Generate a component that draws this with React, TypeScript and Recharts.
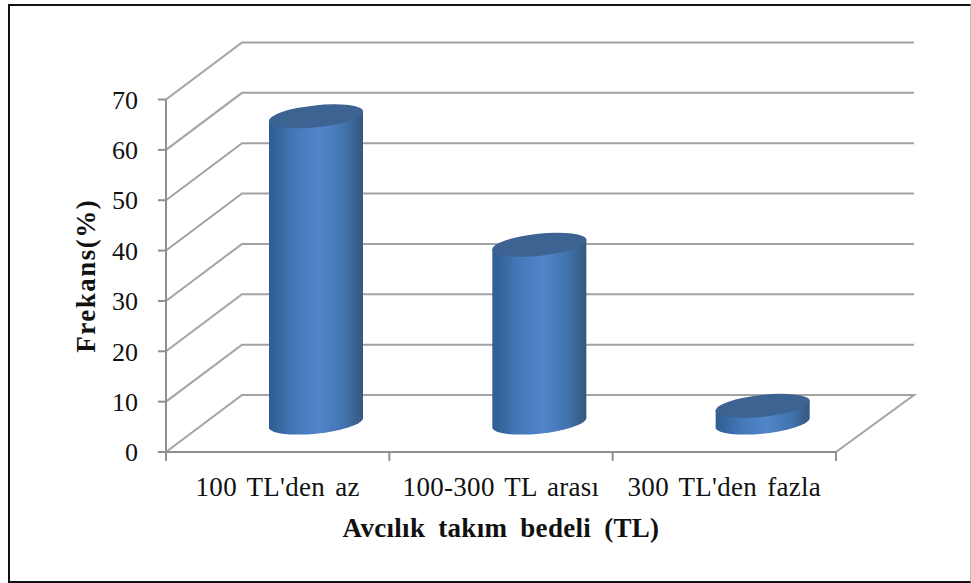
import React from "react";
import { BarChart, Bar, XAxis, YAxis, CartesianGrid, Label } from "recharts";

const categories = ["100 TL'den az", "100-300 TL arası", "300 TL'den fazla"];
const frequencies = [61, 35.5, 3.5];
const yTicks = [0, 10, 20, 30, 40, 50, 60, 70];
const xTitle = "Avcılık takım bedeli (TL)";
const yTitle = "Frekans(%)";

const rows = categories.map((name, i) => ({ name, value: frequencies[i] }));

const WALL_DX = 76;
const WALL_DY = 57;
const FONT = "'Liberation Serif', serif";
const TILT = 6;
const AXIS_COLOR = "#8f8f8f";
const TEXT_COLOR = "#111";

const grid = (p: any) => {
  const isFloor = Math.abs(p.y1 - (p.y + p.height)) < 1;
  return (
    <g key={p.key ?? p.y1}>
      <polyline
        fill="none"
        stroke="#a3a3a3"
        strokeWidth={2}
        points={`${p.x1},${p.y1} ${p.x1 + WALL_DX},${p.y1 - WALL_DY} ${p.x2 + WALL_DX + 2},${p.y1 - WALL_DY}${isFloor ? ` ${p.x2},${p.y1}` : ""}`}
      />
    </g>
  );
};

const XTick = (p: any) => {
  const band = p.width / categories.length;
  const left = p.x - band / 2;
  const axisY = p.y;
  return (
    <g>
      <line x1={left} x2={left} y1={axisY} y2={axisY + 9} stroke={AXIS_COLOR} strokeWidth={2} />
      {p.index === categories.length - 1 && (
        <line x1={left + band} x2={left + band} y1={axisY} y2={axisY + 9} stroke={AXIS_COLOR} strokeWidth={2} />
      )}
      <text
        x={p.x}
        y={axisY + 44}
        textAnchor="middle"
        fill={TEXT_COLOR}
        fontFamily={FONT}
        fontSize={27}
        letterSpacing={0.3}
        wordSpacing={3}
      >
        {p.payload.value}
      </text>
    </g>
  );
};

const Cylinder = (props: any) => {
  const { x, y, width, height, index } = props;
  const cx = x + width / 2 + WALL_DX / 2;
  const topY = y - WALL_DY / 2;
  const baseY = y + height - WALL_DY / 2;
  const half = width / 2;
  const rx = half + 0.4;
  const ry = 11;
  const t = (TILT * Math.PI) / 180;
  const off = ((rx * rx - ry * ry) * Math.sin(t) * Math.cos(t)) / half;
  const id = `cyl-${index}`;
  const d = [
    `M${cx - half},${topY + off}`,
    `L${cx - half},${baseY + off}`,
    `A${rx},${ry} ${-TILT} 0 0 ${cx + half},${baseY - off}`,
    `L${cx + half},${topY - off}`,
    `A${rx},${ry} ${-TILT} 0 0 ${cx - half},${topY + off}`,
    "Z",
  ].join(" ");
  return (
    <g>
      <defs>
        <linearGradient id={id} x1="0" y1="0" x2="1" y2="0">
          <stop offset="0" stopColor="#2f5d92" />
          <stop offset="0.3" stopColor="#457abb" />
          <stop offset="0.55" stopColor="#5085c9" />
          <stop offset="0.8" stopColor="#4273ae" />
          <stop offset="1" stopColor="#34577f" />
        </linearGradient>
      </defs>
      <path d={d} fill={`url(#${id})`} />
      <ellipse cx={cx} cy={topY} rx={rx} ry={ry} fill="#3c6391" transform={`rotate(${-TILT} ${cx} ${topY})`} />
    </g>
  );
};

export default function App() {
  return (
    <div style={{ position: "absolute", left: 0, top: 0, width: 971, height: 583, background: "#fff", overflow: "hidden" }}>
      <div
        style={{
          position: "absolute",
          left: 8,
          top: 4,
          width: 963,
          height: 579,
          boxSizing: "border-box",
          borderStyle: "solid",
          borderColor: "#111",
          borderRightColor: "#bbb",
          borderWidth: "2px 1px 2px 2px",
        }}
      />
      <div style={{ position: "absolute", left: 0, top: 0 }}>
        <BarChart
          width={971}
          height={583}
          data={rows}
          margin={{ left: 0, top: 99.5, right: 135, bottom: 0 }}
          barCategoryGap={0}
        >
          <CartesianGrid vertical={false} horizontal={grid} />
          <XAxis
            dataKey="name"
            interval={0}
            stroke={AXIS_COLOR}
            strokeWidth={2}
            tickLine={false}
            tickSize={0}
            tickMargin={0}
            height={131}
            tick={<XTick />}
          >
            <Label
              value={xTitle}
              position="insideTop"
              offset={66}
              style={{ fill: TEXT_COLOR, fontFamily: FONT, fontSize: 27, fontWeight: 700, letterSpacing: 0.3, wordSpacing: 6 }}
            />
          </XAxis>
          <YAxis
            domain={[0, 70]}
            ticks={yTicks}
            interval={0}
            width={166}
            stroke={AXIS_COLOR}
            strokeWidth={2}
            tickSize={8}
            tickMargin={20}
            tick={{ fill: TEXT_COLOR, fontFamily: FONT, fontSize: 26 }}
          >
            <Label
              value={yTitle}
              angle={-90}
              position="insideLeft"
              offset={85}
              style={{ textAnchor: "middle", fill: TEXT_COLOR, fontFamily: FONT, fontSize: 27, fontWeight: 700, letterSpacing: 1.5 }}
            />
          </YAxis>
          <Bar dataKey="value" barSize={94} isAnimationActive={false} shape={<Cylinder />} />
        </BarChart>
      </div>
    </div>
  );
}
